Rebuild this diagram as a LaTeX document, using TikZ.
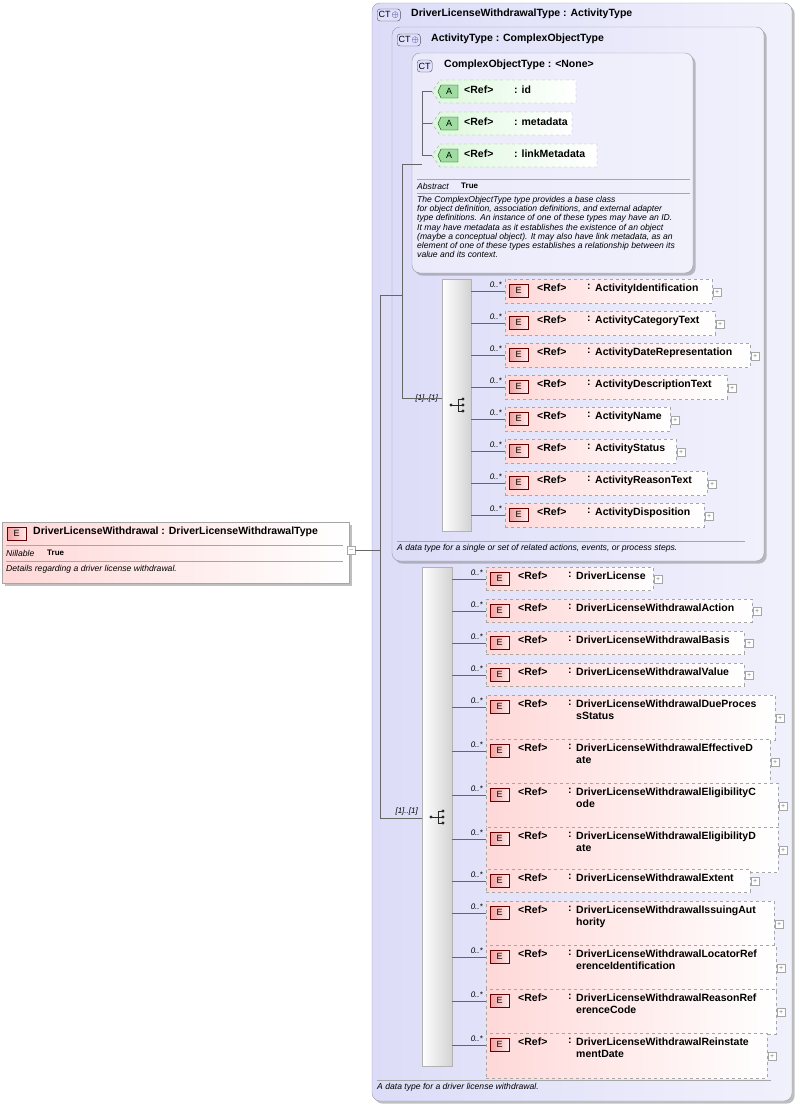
\documentclass[tikz,border=0pt]{standalone}
\usepackage{fontspec}
\setmainfont{Liberation Sans}
\usetikzlibrary{positioning,shadows}
\definecolor{ctfill}{HTML}{DCDCF8}
\definecolor{ctline}{HTML}{9A9AB0}
\definecolor{elpink}{HTML}{FFD8D8}
\definecolor{badgered}{HTML}{F2A0A0}
\definecolor{attgreen}{HTML}{DDF8DD}
\definecolor{badgegreen}{HTML}{9FDC9F}
\tikzset{
  ctbox/.style={draw=ctline, rounded corners=8pt, left color=ctfill, right color=ctfill!40!white},
  elembox/.style={draw=gray!70, dashed, left color=elpink, right color=white, inner sep=0pt},
  attbox/.style={draw=gray!70, dashed, left color=attgreen, right color=white},
  ebadge/.style={draw=red!40!black, left color=badgered, right color=elpink!50!white, minimum width=19pt, minimum height=13pt, inner sep=0pt, font=\fontsize{9}{9}\selectfont},
  lbl/.style={anchor=north west, inner sep=0pt, font=\fontsize{10.5}{12}\selectfont\bfseries},
  card/.style={anchor=south east, inner sep=0pt, font=\fontsize{8}{8}\selectfont\itshape},
  note/.style={anchor=north west, inner sep=0pt, font=\fontsize{8.6}{9.2}\selectfont\itshape, align=left},
  seqbar/.style={draw=gray!60, left color=white, right color=gray!35},
  plusbox/.style={draw=gray!70, fill=white, minimum size=8pt, inner sep=0pt, font=\fontsize{7}{7}\selectfont, text=gray},
  conn/.style={draw=gray!80!black, line width=0.5pt},
}
% #1 name, #2 x, #3 top, #4 right, #5 height, #6 label
\newcommand{\xsdelem}[6]{%
  \node[elembox, anchor=north west, minimum width={(#4-#2)*1pt}, minimum height={#5*1pt}] (#1) at (#2,#3) {};
  \node[ebadge, anchor=north west] at (#2+4,#3+5) {E};
  \node[lbl] at (#2+32,#3+5) {<Ref>};
  \node[lbl] at (#2+82,#3+5) {:};
  \node[lbl, align=left] at (#2+90,#3+5) {#6};
  \node[plusbox, anchor=west] at (#4+1,#3+#5/2+1) {+};
  \node[card] at (#2-3,#3+9) {0..*};
}
% #1 name, #2 x, #3 top, #4 right, #5 label
\newcommand{\xsdattr}[5]{%
  \draw[attbox] (#2+8,#3) -- (#4,#3) -- (#4,#3+23) -- (#2+8,#3+23) -- (#2,#3+11.5) -- cycle;
  \coordinate (#1) at (#2,#3+11.5);
  \draw[draw=green!30!black, fill=badgegreen] (#2+9,#3+5) -- (#2+26,#3+5) -- (#2+26,#3+18) -- (#2+9,#3+18) -- (#2+6,#3+11.5) -- cycle;
  \node[font=\fontsize{9}{9}\selectfont] at (#2+17,#3+11.5) {A};
  \node[lbl] at (#2+32,#3+6) {<Ref>};
  \node[lbl] at (#2+82,#3+6) {: #5};
}
% #1 x, #2 y, #3 text
\newcommand{\ctbadge}[3]{%
  \node[draw=ctline!50!black, fill=ctfill!70!blue!30, rounded corners=3pt, anchor=west, inner sep=1.5pt, minimum height=12pt, font=\fontsize{9}{9}\selectfont] at (#1,#2) {#3};
}
\newcommand{\seqicon}[2]{%
  \fill[gray!30!black] (#1-7,#2) circle (1.7pt);
  \draw[gray!30!black, line width=0.9pt] (#1-7,#2) -- (#1,#2) (#1,#2-6) -- (#1,#2+6) (#1,#2-6) -- (#1+5,#2-6) (#1,#2) -- (#1+5,#2) (#1,#2+6) -- (#1+5,#2+6);
  \foreach \dy in {-6,0,6} \fill[gray!30!black] (#1+5,#2+\dy) circle (1.7pt);
}
\begin{document}
\begin{tikzpicture}[x=1pt,y=-1pt]
\useasboundingbox (0,0) rectangle (795,1104);

% type boxes
\draw[ctbox, drop shadow] (372,3) rectangle (792,1101);
\ctbadge{377}{15}{CT\kern1pt\textcolor{blue!40!black}{$\oplus$}}
\node[lbl] at (411,9) {DriverLicenseWithdrawalType : ActivityType};
\draw[ctbox, drop shadow] (392,27) rectangle (764,561);
\ctbadge{397}{40}{CT\kern1pt\textcolor{blue!40!black}{$\oplus$}}
\node[lbl] at (431,34) {ActivityType : ComplexObjectType};
\draw[ctbox, left color=ctfill!60!white, drop shadow] (412,53) rectangle (693,273);
\ctbadge{417}{66}{CT}
\node[lbl] at (444,60) {ComplexObjectType : <None>};

% attributes
\xsdattr{aid}{432}{80}{576}{id}
\xsdattr{ameta}{432}{112}{572}{metadata}
\xsdattr{alink}{432}{144}{597}{linkMetadata}
\draw[conn] (aid) -- (422,91.5) -- (422,155.5) -- (alink);
\draw[conn] (ameta) -- (422,123.5);
\draw[conn] (422,164) -- (402,164);

\draw[gray!70] (417,179) -- (690,179) (417,193) -- (690,193);
\node[note, anchor=west] at (417,186) {Abstract};
\node[lbl, anchor=west, font=\fontsize{8}{8}\selectfont\bfseries] at (461,186) {True};
\node[note] at (417,196) {The ComplexObjectType type provides a base class\\for object definition, association definitions, and external adapter\\type definitions. An instance of one of these types may have an ID.\\It may have metadata as it establishes the existence of an object\\(maybe a conceptual object). It may also have link metadata, as an\\element of one of these types establishes a relationship between its\\value and its context.};

% first sequence
\node[seqbar, anchor=north west, minimum width=29pt, minimum height=252pt] (seqA) at (442,279) {};
\seqicon{458}{405}
\node[card, anchor=east] at (438,398) {[1]..[1]};
\draw[conn] (402,164) -- (402,398) -- (seqA.west |- 0,398);
\foreach \nm/\top/\rt [count=\i] in {ActivityIdentification/279/712, ActivityCategoryText/311/715, ActivityDateRepresentation/343/750, ActivityDescriptionText/375/727, ActivityName/407/670, ActivityStatus/439/676, ActivityReasonText/471/707, ActivityDisposition/503/704}{
  \xsdelem{ea\i}{505}{\top}{\rt}{24}{\nm}
  \draw[conn] (471,\top+12) -- (ea\i.west |- 0,\top+12);
}
\draw[gray!70] (397,541) -- (745,541);
\node[note] at (397,544) {A data type for a single or set of related actions, events, or process steps.};

% second sequence
\node[seqbar, anchor=north west, minimum width=30pt, minimum height=499pt] (seqB) at (422,567) {};
\seqicon{438}{817}
\node[card, anchor=east] at (418,811) {[1]..[1]};
\foreach \nm/\top/\rt/\hgt [count=\i] in {DriverLicense/567/653/23, DriverLicenseWithdrawalAction/599/752/23, DriverLicenseWithdrawalBasis/631/744/23, DriverLicenseWithdrawalValue/663/744/23, DriverLicenseWithdrawalDueProces\\sStatus/695/775/45, DriverLicenseWithdrawalEffectiveD\\ate/739/770/45, DriverLicenseWithdrawalEligibilityC\\ode/783/778/45, DriverLicenseWithdrawalEligibilityD\\ate/827/778/45, DriverLicenseWithdrawalExtent/869/750/23, DriverLicenseWithdrawalIssuingAut\\hority/901/774/45, DriverLicenseWithdrawalLocatorRef\\erenceIdentification/945/776/45, DriverLicenseWithdrawalReasonRef\\erenceCode/989/776/45, DriverLicenseWithdrawalReinstate\\mentDate/1033/767/45}{
  \xsdelem{eb\i}{486}{\top}{\rt}{\hgt}{\nm}
  \draw[conn] (452,\top+12) -- (eb\i.west |- 0,\top+12);
}
\draw[gray!70] (377,1080) -- (771,1080);
\node[note] at (377,1083) {A data type for a driver license withdrawal.};

% root element
\node[draw=gray!70, left color=elpink, right color=white, anchor=north west, minimum width=347pt, minimum height=61pt, drop shadow] (root) at (2,522) {};
\node[ebadge, anchor=north west] at (7,527) {E};
\node[lbl, font=\fontsize{10.5}{12}\selectfont\bfseries] at (33,527) {DriverLicenseWithdrawal : DriverLicenseWithdrawalType};
\draw[gray!70] (6,545) -- (343,545) (6,561) -- (343,561);
\node[note, anchor=west] at (6,553) {Nillable};
\node[lbl, anchor=west, font=\fontsize{8}{8}\selectfont\bfseries] at (47,553) {True};
\node[note] at (6,565) {Details regarding a driver license withdrawal.};
\node[plusbox, anchor=west] (rootmin) at (347,550) {--};

% connectors
\draw[conn] (rootmin.east) -- (380,550);
\draw[conn] (380,295) -- (380,818);
\draw[conn] (380,295) -- (402,295);
\draw[conn] (380,818) -- (seqB.west |- 0,818);
\end{tikzpicture}
\end{document}
